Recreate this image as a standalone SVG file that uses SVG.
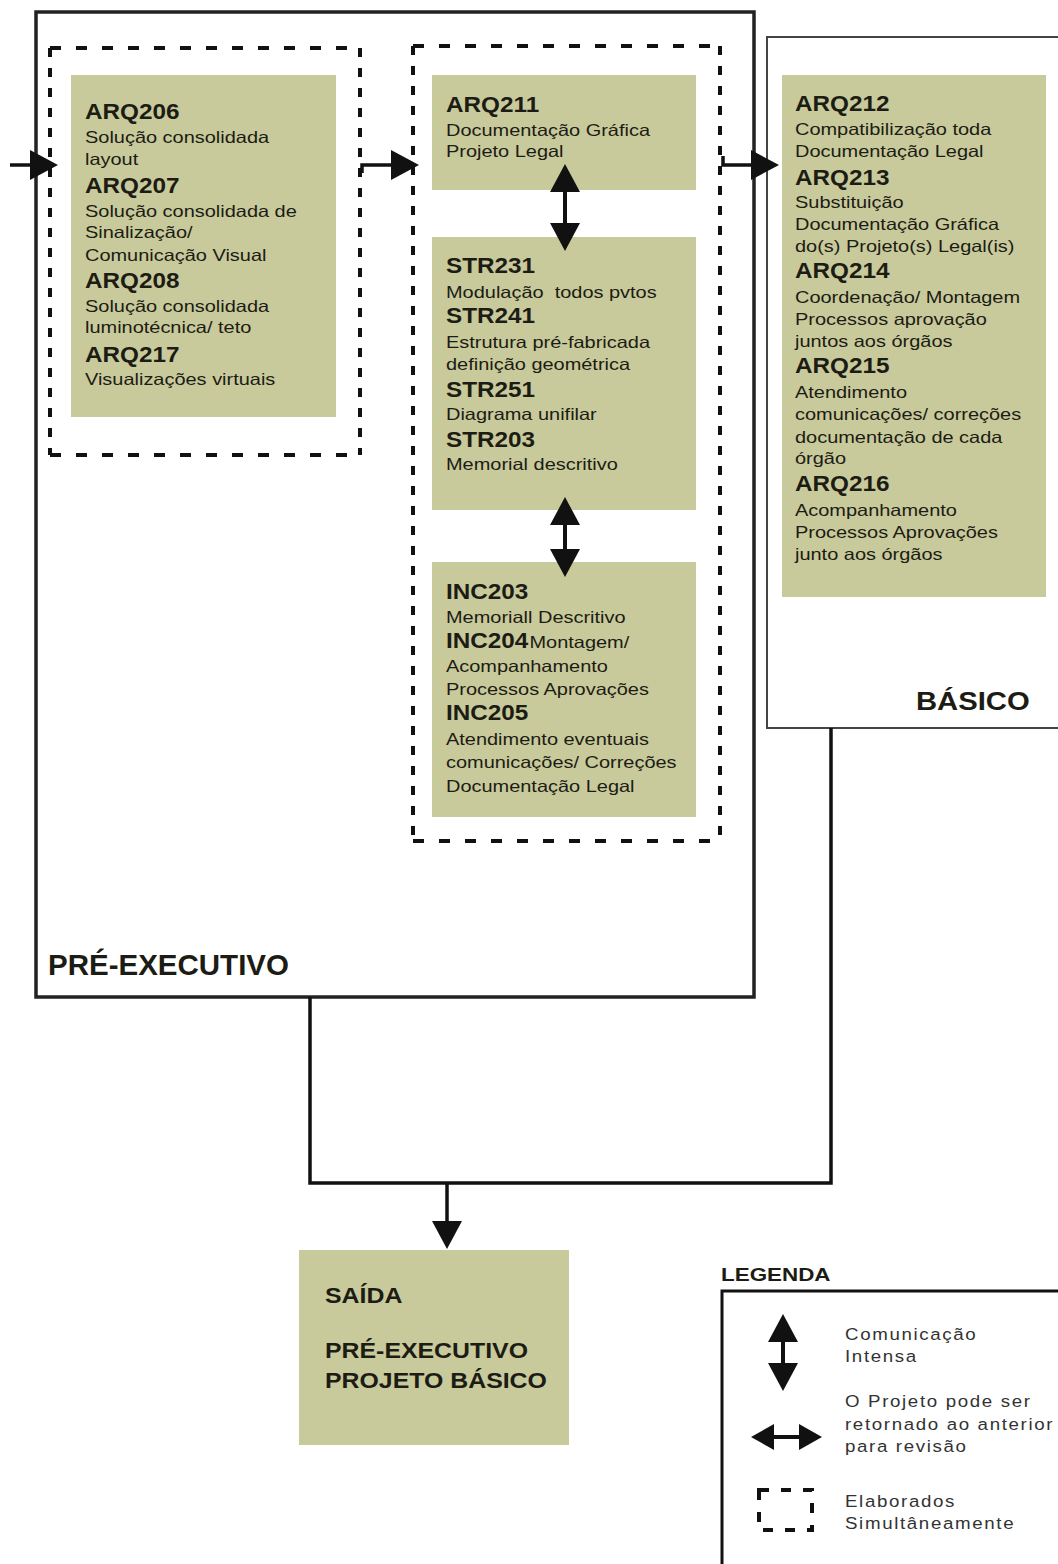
<svg xmlns="http://www.w3.org/2000/svg" width="1058" height="1564" viewBox="0 0 1058 1564">
  <style>
    .t { font-family: "Liberation Sans", Arial, sans-serif; fill: #1c1c14; }
    .h { font-weight: bold; font-size: 21.5px; }
    .d { font-size: 16.5px; }
    .card { fill: #c8ca9b; }
    .frame { fill: none; stroke: #222; stroke-width: 3.5; }
    .thin { fill: none; stroke: #444; stroke-width: 2; }
    .dh { fill: none; stroke: #111; stroke-width: 4; stroke-dasharray: 11 15; }
    .dv { fill: none; stroke: #111; stroke-width: 4; stroke-dasharray: 9 11; }
    .wire { fill: none; stroke: #111; stroke-width: 3.5; }
    .shaft { fill: none; stroke: #111; stroke-width: 4; }
    .lg { font-family: "Liberation Sans", Arial, sans-serif; font-size: 17px; fill: #333; letter-spacing: 1.5px; }
  </style>
  <defs>
    <marker id="head" viewBox="0 0 28 30" refX="1" refY="15" markerWidth="28" markerHeight="30" markerUnits="userSpaceOnUse" orient="auto-start-reverse">
      <path d="M0,0 L28,15 L0,30 z" fill="#111"/>
    </marker>
    <marker id="headS" viewBox="0 0 23 26" refX="1" refY="13" markerWidth="23" markerHeight="26" markerUnits="userSpaceOnUse" orient="auto-start-reverse">
      <path d="M0,0 L23,13 L0,26 z" fill="#111"/>
    </marker>
  </defs>

  <rect width="1058" height="1564" fill="#fff"/>

  <!-- stage frame: PRÉ-EXECUTIVO -->
  <g id="pre-executivo">
    <rect class="frame" x="36" y="12" width="718" height="985"/>
    <text class="t" x="48" y="975" font-weight="bold" font-size="29.5">PRÉ-EXECUTIVO</text>
  </g>

  <!-- groups produced at the same time -->
  <g id="simultaneo-1">
    <line class="dh" x1="50" y1="48" x2="362" y2="48"/>
    <line class="dh" x1="50" y1="455" x2="362" y2="455"/>
    <line class="dv" x1="50" y1="48" x2="50" y2="455"/>
    <line class="dv" x1="360" y1="48" x2="360" y2="455"/>
  </g>
  <g id="simultaneo-2">
    <line class="dh" x1="413" y1="46" x2="722" y2="46"/>
    <line class="dh" x1="413" y1="841" x2="722" y2="841"/>
    <line class="dv" x1="413" y1="46" x2="413" y2="841"/>
    <line class="dv" x1="720" y1="46" x2="720" y2="841"/>
  </g>

  <g id="arq206-217">
    <rect class="card" x="71" y="75" width="265" height="342"/>
    <g class="t" transform="translate(85 0) scale(1.13 1)">
      <text class="h" y="119"><tspan x="0">ARQ206</tspan><tspan x="0" y="193">ARQ207</tspan><tspan x="0" y="288">ARQ208</tspan><tspan x="0" y="362">ARQ217</tspan></text>
    </g>
    <text class="t d" transform="translate(85 0) scale(1.21 1)">
      <tspan x="0" y="143">Solução consolidada</tspan>
      <tspan x="0" y="165">layout</tspan>
      <tspan x="0" y="217">Solução consolidada de</tspan>
      <tspan x="0" y="238">Sinalização/</tspan>
      <tspan x="0" y="261">Comunicação Visual</tspan>
      <tspan x="0" y="312">Solução consolidada</tspan>
      <tspan x="0" y="333">luminotécnica/ teto</tspan>
      <tspan x="0" y="385">Visualizações virtuais</tspan>
    </text>
  </g>

  <g id="arq211">
    <rect class="card" x="432" y="75" width="264" height="115"/>
    <text class="t h" transform="translate(446 0) scale(1.13 1)" x="0" y="112">ARQ211</text>
    <text class="t d" transform="translate(446 0) scale(1.21 1)">
      <tspan x="0" y="136">Documentação Gráfica</tspan>
      <tspan x="0" y="157">Projeto Legal</tspan>
    </text>
  </g>

  <g id="str">
    <rect class="card" x="432" y="237" width="264" height="273"/>
    <text class="t h" transform="translate(446 0) scale(1.13 1)">
      <tspan x="0" y="273">STR231</tspan>
      <tspan x="0" y="323">STR241</tspan>
      <tspan x="0" y="397">STR251</tspan>
      <tspan x="0" y="447">STR203</tspan>
    </text>
    <text class="t d" transform="translate(446 0) scale(1.21 1)">
      <tspan x="0" y="298">Modulação&#160; todos pvtos</tspan>
      <tspan x="0" y="348">Estrutura pré-fabricada</tspan>
      <tspan x="0" y="370">definição geométrica</tspan>
      <tspan x="0" y="420">Diagrama unifilar</tspan>
      <tspan x="0" y="470">Memorial descritivo</tspan>
    </text>
  </g>

  <g id="inc">
    <rect class="card" x="432" y="562" width="264" height="255"/>
    <text class="t h" transform="translate(446 0) scale(1.13 1)">
      <tspan x="0" y="599">INC203</tspan>
      <tspan x="0" y="648">INC204</tspan>
      <tspan x="0" y="720">INC205</tspan>
    </text>
    <text class="t d" transform="translate(446 0) scale(1.21 1)">
      <tspan x="0" y="623">Memoriall Descritivo</tspan>
      <tspan x="69" y="648">Montagem/</tspan>
      <tspan x="0" y="672">Acompanhamento</tspan>
      <tspan x="0" y="695">Processos Aprovações</tspan>
      <tspan x="0" y="745">Atendimento eventuais</tspan>
      <tspan x="0" y="768">comunicações/ Correções</tspan>
      <tspan x="0" y="792">Documentação Legal</tspan>
    </text>
  </g>

  <!-- stage frame: BÁSICO -->
  <g id="basico">
    <rect class="thin" x="767" y="37" width="300" height="691"/>
    <rect class="card" x="782" y="75" width="264" height="522"/>
    <text class="t h" transform="translate(795 0) scale(1.13 1)">
      <tspan x="0" y="111">ARQ212</tspan>
      <tspan x="0" y="185">ARQ213</tspan>
      <tspan x="0" y="278">ARQ214</tspan>
      <tspan x="0" y="373">ARQ215</tspan>
      <tspan x="0" y="491">ARQ216</tspan>
    </text>
    <text class="t d" transform="translate(795 0) scale(1.21 1)">
      <tspan x="0" y="135">Compatibilização toda</tspan>
      <tspan x="0" y="157">Documentação Legal</tspan>
      <tspan x="0" y="208">Substituição</tspan>
      <tspan x="0" y="230">Documentação Gráfica</tspan>
      <tspan x="0" y="252">do(s) Projeto(s) Legal(is)</tspan>
      <tspan x="0" y="303">Coordenação/ Montagem</tspan>
      <tspan x="0" y="325">Processos aprovação</tspan>
      <tspan x="0" y="347">juntos aos órgãos</tspan>
      <tspan x="0" y="398">Atendimento</tspan>
      <tspan x="0" y="420">comunicações/ correções</tspan>
      <tspan x="0" y="443">documentação de cada</tspan>
      <tspan x="0" y="464">órgão</tspan>
      <tspan x="0" y="516">Acompanhamento</tspan>
      <tspan x="0" y="538">Processos Aprovações</tspan>
      <tspan x="0" y="560">junto aos órgãos</tspan>
    </text>
    <text class="t" transform="translate(916 710) scale(1.17 1)" font-weight="bold" font-size="25">BÁSICO</text>
  </g>

  <g id="saida">
    <rect class="card" x="299" y="1250" width="270" height="195"/>
    <text class="t" transform="translate(325 0) scale(1.13 1)" font-weight="bold" font-size="22">
      <tspan x="0" y="1303">SAÍDA</tspan>
      <tspan x="0" y="1358">PRÉ-EXECUTIVO</tspan>
      <tspan x="0" y="1388">PROJETO BÁSICO</tspan>
    </text>
  </g>

  <!-- flow connectors -->
  <g id="connectors">
    <path class="wire" d="M10,165 H31" marker-end="url(#head)"/>
    <path class="wire" d="M362,173 V165 H392" marker-end="url(#head)"/>
    <path class="wire" d="M723,156 V165 H752" marker-end="url(#head)"/>
    <path class="shaft" d="M565,191 V224" marker-start="url(#head)" marker-end="url(#head)"/>
    <path class="shaft" d="M565,524 V550" marker-start="url(#head)" marker-end="url(#head)"/>
    <path class="wire" d="M310,997 V1183 H831 V728"/>
    <path class="wire" d="M447,1183 V1222" marker-end="url(#head)"/>
  </g>

  <g id="legenda">
    <text class="t" transform="translate(721 1281) scale(1.18 1)" font-weight="bold" font-size="19">LEGENDA</text>
    <rect x="722" y="1291" width="400" height="400" fill="none" stroke="#111" stroke-width="3"/>
    <path class="shaft" d="M783,1341 V1364" marker-start="url(#head)" marker-end="url(#head)"/>
    <path class="shaft" d="M773,1437 H800" marker-start="url(#headS)" marker-end="url(#headS)"/>
    <rect x="759" y="1490" width="53" height="40" fill="none" stroke="#111" stroke-width="4" stroke-dasharray="10 12"/>
    <text class="lg" transform="translate(845 0) scale(1.1 1)">
      <tspan x="0" y="1340">Comunicação</tspan>
      <tspan x="0" y="1362">Intensa</tspan>
      <tspan x="0" y="1407">O Projeto pode ser</tspan>
      <tspan x="0" y="1430">retornado ao anterior</tspan>
      <tspan x="0" y="1452">para revisão</tspan>
      <tspan x="0" y="1507">Elaborados</tspan>
      <tspan x="0" y="1529">Simultâneamente</tspan>
    </text>
  </g>
</svg>
